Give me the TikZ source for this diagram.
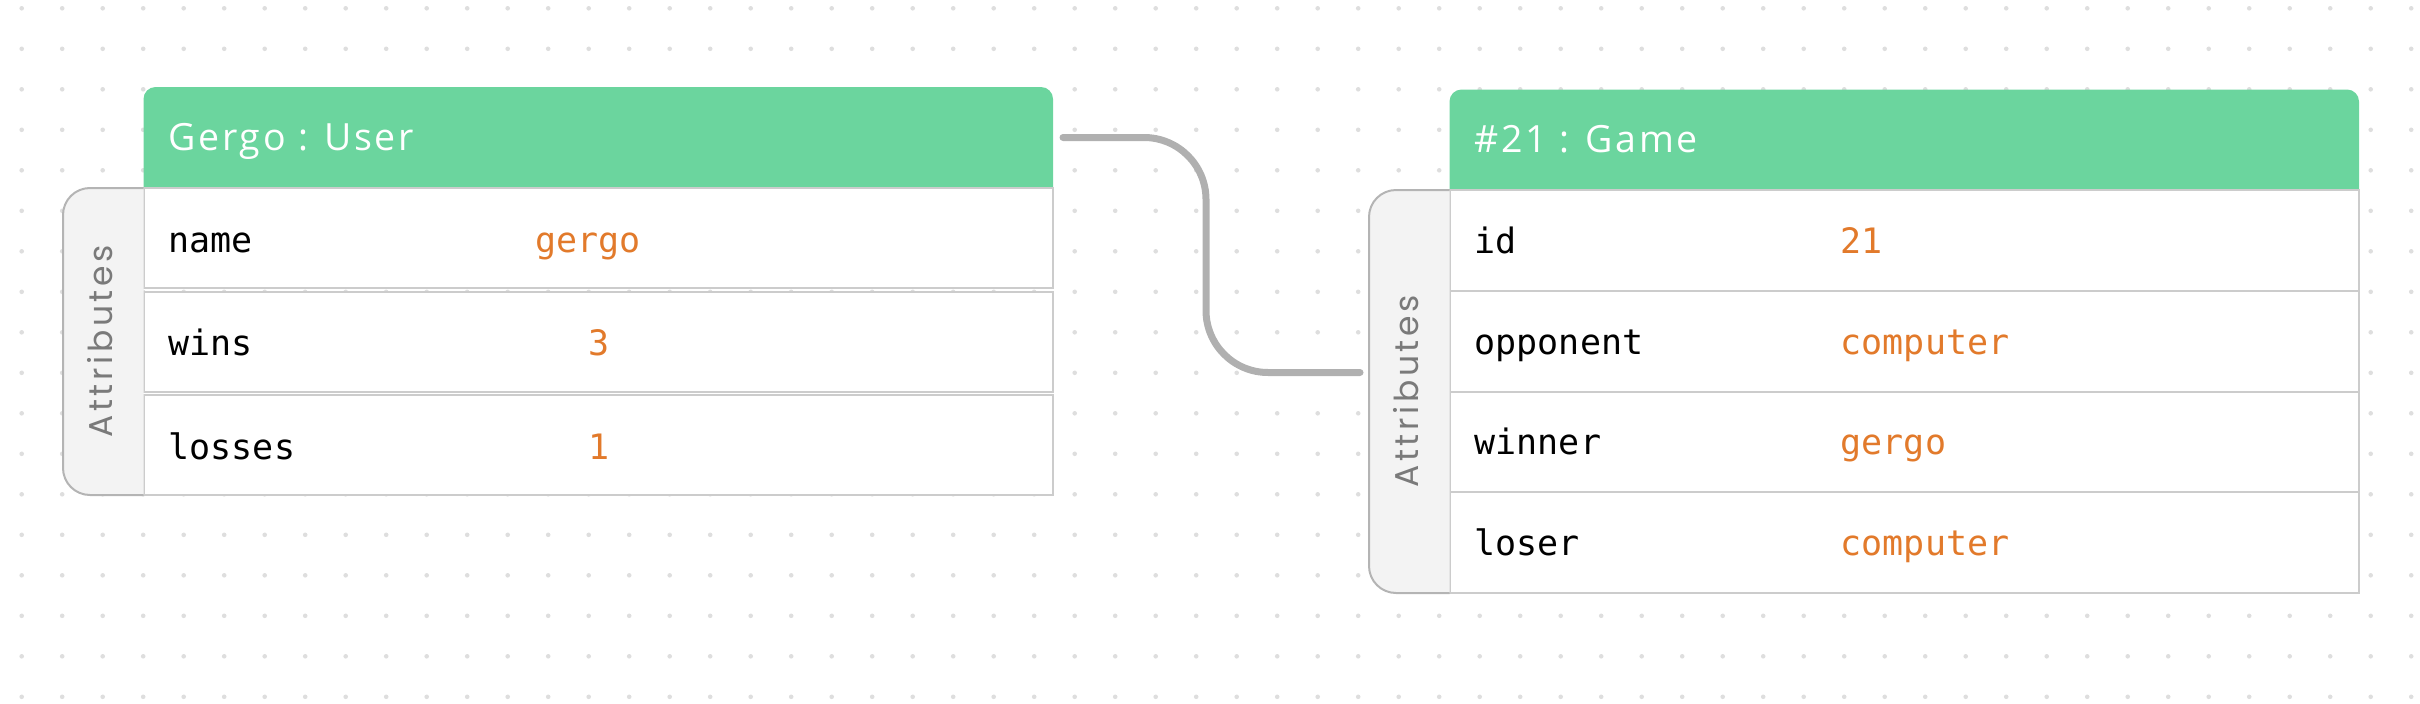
\documentclass[tikz,border=0pt]{standalone}
\usepackage{fontspec}
\setmainfont{Open Sans}
\newfontfamily\headfont[LetterSpace=7]{Open Sans}
\newfontfamily\codefont{DejaVu Sans Mono}
\newfontfamily\tabfont[LetterSpace=11]{Poppins}
\usetikzlibrary{positioning}
\definecolor{headgreen}{HTML}{6BD59E}
\definecolor{valorange}{HTML}{E27A2B}
\definecolor{cellline}{HTML}{CCCCCC}
\definecolor{tabline}{HTML}{B4B4B4}
\definecolor{tabfill}{HTML}{F3F3F3}
\definecolor{linkgray}{HTML}{B0B0B0}
\definecolor{dotgray}{HTML}{DEDEDE}
\begin{document}
\begin{tikzpicture}[x=1pt,y=-1pt,
  cell/.style={draw=cellline,line width=2pt,fill=white,outer sep=0pt,inner sep=0pt,anchor=north west,minimum width=909.5pt},
  headbox/.style={outer sep=0pt,inner sep=0pt,anchor=north west,minimum width=909.5pt,minimum height=101pt},
  tab/.style={draw=tabline,fill=tabfill,line width=2pt,rounded corners=27pt},
  tabtext/.style={rotate=90,inner sep=0pt,text=black!52,font=\tabfont\fontsize{33}{40}\selectfont},
  headtext/.style={anchor=base west,inner sep=0pt,text=white,font=\headfont\fontsize{37.5}{44}\selectfont},
  field/.style={anchor=base west,inner sep=0pt,font=\codefont\fontsize{35}{40}\selectfont},
  value/.style={field,text=valorange},
  link/.style={draw=linkgray,line width=7pt,line cap=round,rounded corners=62pt}]
  \newcommand{\headbar}[1]{
    \fill[headgreen] (#1.south west) [rounded corners=12pt] -- (#1.north west) -- (#1.north east) [sharp corners] -- (#1.south east) -- cycle;
  }
  \useasboundingbox (0,0) rectangle (2420,704);
  \foreach \i in {0,...,59}
    \foreach \j in {0,...,17}
      \fill[dotgray] ({21.7+40.5*\i},{8.3+40.5*\j}) circle (2.3pt);

  \node[headbox] (uh) at (143.5,87) {};
  \headbar{uh}
  \node[headtext] (uh-t) at ([xshift=25pt,yshift=-13pt]uh.west) {Gergo : User};
  \foreach \f/\v/\s [count=\k] in {name/gergo/392, wins/3/444.5, losses/1/444.5} {
    \node[cell,minimum height=100pt] (u\k) at (143.5,{188+103.5*(\k-1)}) {};
    \node[field] (u\k-f) at ([xshift=25pt,yshift=-14pt]u\k.west) {\f};
    \node[value] (u\k-v) at ([xshift=\s pt,yshift=-14pt]u\k.west) {\v};
  }
  \draw[tab] (u1.north west) -- ++(-80.5,0) |- (u3.south west);
  \node[tabtext] (utab-t) at ([xshift=-43pt]u2.west) {Attributes};

  \node[headbox,minimum height=100.5pt] (gh) at (1449.5,89.5) {};
  \headbar{gh}
  \node[headtext] (gh-t) at ([xshift=25pt,yshift=-13pt]gh.west) {\#21 : Game};
  \foreach \f/\v [count=\k] in {id/21, opponent/computer, winner/gergo, loser/computer} {
    \node[cell,minimum height=100.75pt] (g\k) at (1449.5,{190+100.75*(\k-1)}) {};
    \node[field] (g\k-f) at ([xshift=25pt,yshift=-13pt]g\k.west) {\f};
    \node[value] (g\k-v) at ([xshift=391pt,yshift=-13pt]g\k.west) {\v};
  }
  \draw[tab] (g1.north west) -- ++(-80.5,0) |- (g4.south west);
  \node[tabtext] (gtab-t) at ([xshift=-43pt]g2.south west) {Attributes};

  \coordinate (u-out) at ([xshift=10pt]uh.east);
  \coordinate (g-in) at ([xshift=-89.5pt,yshift=19pt]g2.south west);
  \coordinate (bend) at (1206,0);
  \draw[link] (u-out) -| (bend |- g-in) -- (g-in);
\end{tikzpicture}
\end{document}
